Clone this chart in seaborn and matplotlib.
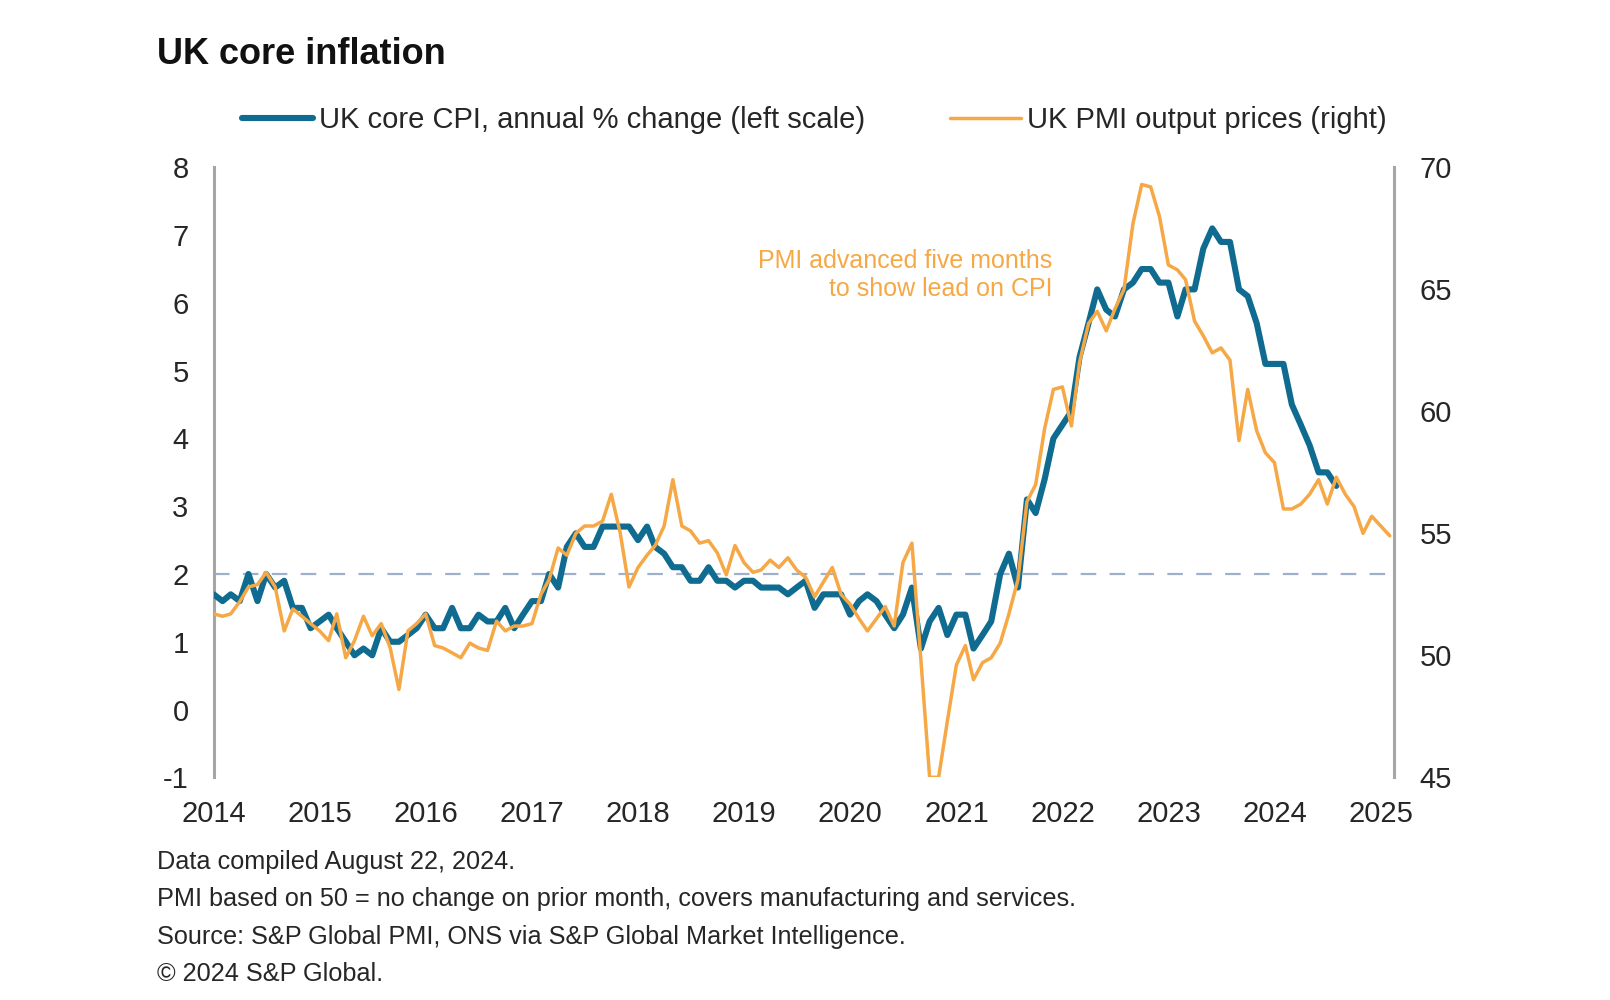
import matplotlib
matplotlib.use("Agg")
import matplotlib.pyplot as plt
import seaborn as sns
import pandas as pd
from matplotlib.lines import Line2D

# ---------------- data ----------------
# UK core CPI, annual % change, monthly from Dec 2013 to Jul 2024
cpi_values = [1.7,
              1.6, 1.7, 1.6, 2.0, 1.6, 2.0, 1.8, 1.9, 1.5, 1.5, 1.2, 1.3,
              1.4, 1.2, 1.0, 0.8, 0.9, 0.8, 1.2, 1.0, 1.0, 1.1, 1.2, 1.4,
              1.2, 1.2, 1.5, 1.2, 1.2, 1.4, 1.3, 1.3, 1.5, 1.2, 1.4, 1.6,
              1.6, 2.0, 1.8, 2.4, 2.6, 2.4, 2.4, 2.7, 2.7, 2.7, 2.7, 2.5,
              2.7, 2.4, 2.3, 2.1, 2.1, 1.9, 1.9, 2.1, 1.9, 1.9, 1.8, 1.9,
              1.9, 1.8, 1.8, 1.8, 1.7, 1.8, 1.9, 1.5, 1.7, 1.7, 1.7, 1.4,
              1.6, 1.7, 1.6, 1.4, 1.2, 1.4, 1.8, 0.9, 1.3, 1.5, 1.1, 1.4,
              1.4, 0.9, 1.1, 1.3, 2.0, 2.3, 1.8, 3.1, 2.9, 3.4, 4.0, 4.2,
              4.4, 5.2, 5.7, 6.2, 5.9, 5.8, 6.2, 6.3, 6.5, 6.5, 6.3, 6.3,
              5.8, 6.2, 6.2, 6.8, 7.1, 6.9, 6.9, 6.2, 6.1, 5.7, 5.1, 5.1,
              5.1, 4.5, 4.2, 3.9, 3.5, 3.5, 3.3]
cpi_start = "2013-12-31"

# UK PMI output prices, advanced five months (plotted Dec 2013 .. Jan 2025)
pmi_values = [51.7,
              51.6, 51.7, 52.2, 52.8, 52.9, 53.4, 52.8, 51.0, 51.9, 51.6, 51.3, 51.0,
              50.6, 51.7, 49.9, 50.6, 51.6, 50.8, 51.3, 50.3, 48.6, 51.0, 51.3, 51.7,
              50.4, 50.3, 50.1, 49.9, 50.5, 50.3, 50.2, 51.4, 51.0, 51.2, 51.2, 51.3,
              52.5, 53.1, 54.4, 54.1, 55.0, 55.3, 55.3, 55.5, 56.6, 55.0, 52.8, 53.6,
              54.1, 54.5, 55.3, 57.2, 55.3, 55.1, 54.6, 54.7, 54.2, 53.3, 54.5, 53.8,
              53.4, 53.5, 53.9, 53.6, 54.0, 53.5, 53.2, 52.4, 53.0, 53.6, 52.5, 52.1,
              51.5, 51.0, 51.5, 52.0, 51.2, 53.8, 54.6, 49.8, 45.0, 45.0, 47.3, 49.6,
              50.4, 49.0, 49.7, 49.9, 50.5, 51.7, 53.1, 56.3, 57.0, 59.3, 60.9, 61.0,
              59.4, 62.0, 63.6, 64.1, 63.3, 64.2, 65.0, 67.7, 69.3, 69.2, 68.0, 66.0,
              65.8, 65.4, 63.7, 63.1, 62.4, 62.6, 62.1, 58.8, 60.9, 59.2, 58.3, 57.9,
              56.0, 56.0, 56.2, 56.6, 57.2, 56.2, 57.3, 56.6, 56.1, 55.0, 55.7, 55.3,
              54.9]
pmi_start = "2013-12-31"

years = list(range(2014, 2026))
left_ticks = list(range(-1, 9))
right_ticks = [45, 50, 55, 60, 65, 70]
target_level = 2

title = "UK core inflation"
cpi_label = "UK core CPI, annual % change (left scale)"
pmi_label = "UK PMI output prices (right)"
note = "PMI advanced five months\nto show lead on CPI"
footnotes = ["Data compiled August 22, 2024.",
             "PMI based on 50 = no change on prior month, covers manufacturing and services.",
             "Source: S&P Global PMI, ONS via S&P Global Market Intelligence.",
             "\u00a9 2024 S&P Global."]

# ---------------- style ----------------
sns.set_style("white")
plt.rcParams['font.family'] = ['Liberation Sans', 'DejaVu Sans']

BLUE = "#0f6b8f"
ORANGE = "#f5a845"
GREY = "#a6a6a6"
TXT = "#262626"

W, H = 1610, 1000
fig = plt.figure(figsize=(W / 100, H / 100), dpi=100)
x0, x1, y0, y1 = 213.6, 1394.4, 167.4, 777.3
ax = fig.add_axes([x0 / W, 1 - y1 / H, (x1 - x0) / W, (y1 - y0) / H])
ax2 = ax.twinx()

cpi_df = pd.DataFrame({"date": pd.date_range(cpi_start, periods=len(cpi_values), freq="ME"),
                       "value": cpi_values})
pmi_df = pd.DataFrame({"date": pd.date_range(pmi_start, periods=len(pmi_values), freq="ME"),
                       "value": pmi_values})

ax.axhline(target_level, color="#9fb0cc", lw=1.6, ls=(0, (7, 6)), zorder=1)
sns.lineplot(data=cpi_df, x="date", y="value", ax=ax, color=BLUE, lw=4.4, zorder=3)
sns.lineplot(data=pmi_df, x="date", y="value", ax=ax2, color=ORANGE, lw=2.5, zorder=3)

ax.set_xlim(pd.Timestamp("2013-12-31"), pd.Timestamp("2025-02-16"))
ax.set_ylim(-1, 8)
ax2.set_ylim(45, 70)
ax.set_yticks(left_ticks)
ax.set_yticklabels([str(t) for t in left_ticks])
ax2.set_yticks(right_ticks)
ax2.set_yticklabels([str(t) for t in right_ticks])
ax.set_xticks([pd.Timestamp(f"{y}-01-01") for y in years])
ax.set_xticklabels([str(y) for y in years])

for a in (ax, ax2):
    a.set_xlabel("")
    a.set_ylabel("")
    for s in ("top", "bottom"):
        a.spines[s].set_visible(False)
    a.grid(False)
ax.spines["right"].set_visible(False)
ax2.spines["left"].set_visible(False)
ax.spines["left"].set_color(GREY)
ax.spines["left"].set_linewidth(2.2)
ax2.spines["right"].set_color(GREY)
ax2.spines["right"].set_linewidth(2.2)

ax.tick_params(axis="y", length=0, pad=18, labelsize=21, labelcolor=TXT)
ax.tick_params(axis="x", length=0, pad=16, labelsize=21, labelcolor=TXT)
ax2.tick_params(axis="y", length=0, pad=18, labelsize=21, labelcolor=TXT)
ax.set_facecolor("none")
ax2.set_facecolor("none")

# title
fig.text(157 / W, 1 - 54 / H, title, fontsize=26, fontweight="bold", color="#111111",
         va="center", ha="left")

# legend
handles = [Line2D([], [], color=BLUE, lw=4.4), Line2D([], [], color=ORANGE, lw=2.5)]
fig.legend(handles, [cpi_label, pmi_label], loc="center", ncol=2,
           bbox_to_anchor=(814 / W, 1 - 120 / H), frameon=False, fontsize=21,
           handlelength=2.45, handletextpad=0.2, columnspacing=2.9,
           labelcolor=TXT)

# annotation
fig.text(1052 / W, 1 - 275 / H, note, fontsize=18, color=ORANGE, ha="right",
         va="center", linespacing=1.25)

# footnotes
for i, line in enumerate(footnotes):
    fig.text(157 / W, 1 - (862 + 37.3 * i) / H, line, fontsize=18.2, color=TXT,
             ha="left", va="center")

fig.savefig("out.png", dpi=100, facecolor="white")
